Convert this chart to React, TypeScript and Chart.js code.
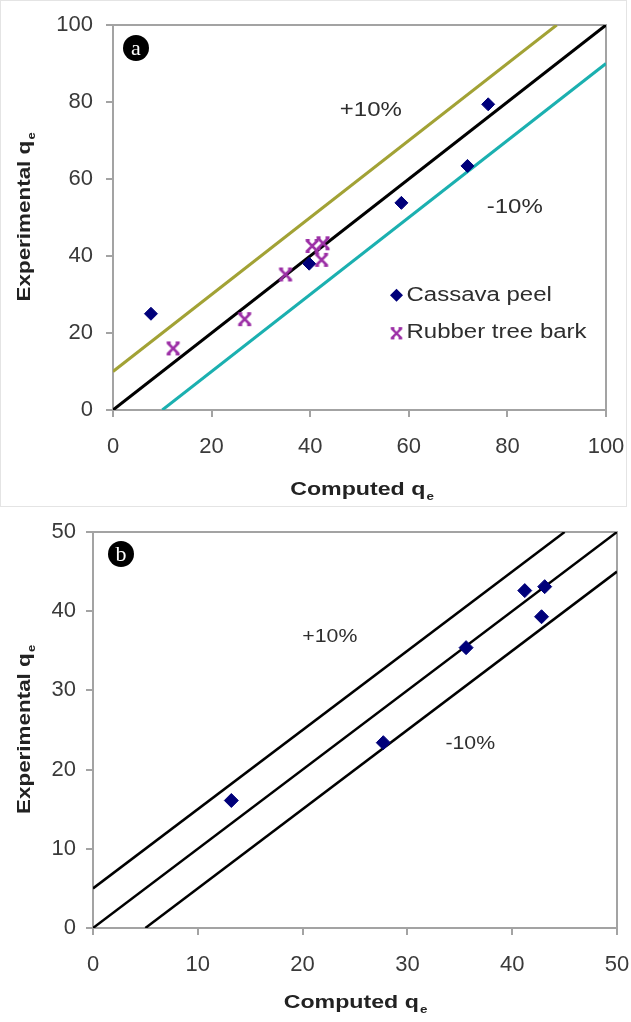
import React, { useEffect, useRef } from "react";
import { Chart, registerables } from "chart.js";

Chart.register(...registerables);

// ---------- Data: panel (a) ----------
const cassavaA_x = [7.7, 39.8, 58.5, 71.9, 76.1];
const cassavaA_y = [25, 38, 53.8, 63.4, 79.4];
const rubberA_x = [12.2, 26.7, 35.0, 40.4, 42.6, 42.3];
const rubberA_y = [16.0, 23.6, 35.2, 42.6, 43.3, 39.0];
const upperA_x = [0, 90];
const upperA_y = [10, 100];
const idealA_x = [0, 100];
const idealA_y = [0, 100];
const lowerA_x = [10, 100];
const lowerA_y = [0, 90];
const ticksA = [0, 20, 40, 60, 80, 100];

// ---------- Data: panel (b) ----------
const cassavaB_x = [13.2, 27.7, 35.6, 41.2, 43.1, 42.8];
const cassavaB_y = [16.1, 23.4, 35.4, 42.6, 43.1, 39.3];
const upperB_x = [0, 45];
const upperB_y = [5, 50];
const idealB_x = [0, 50];
const idealB_y = [0, 50];
const lowerB_x = [5, 50];
const lowerB_y = [0, 45];
const ticksB = [0, 10, 20, 30, 40, 50];

const seriesNames = ["Cassava peel", "Rubber tree bark"];
const bandLabels = ["+10%", "-10%"];

const FONT = '"Liberation Sans", Arial, Helvetica, sans-serif';
const NAVY = "#00007a";
const PURPLE = "#9c2fa6";
const OLIVE = "#a2a235";
const TEAL = "#1bb0b0";
const AXIS = "#a3a3a3";
const TEXT = "#2e2e2e";

const zip = (xs: number[], ys: number[]) => xs.map((x, i) => ({ x, y: ys[i] }));

function makeRubberMarker(): HTMLCanvasElement {
  const c = document.createElement("canvas");
  c.width = 16;
  c.height = 16;
  const g = c.getContext("2d")!;
  g.strokeStyle = PURPLE;
  g.lineWidth = 2.6;
  g.lineCap = "butt";
  g.beginPath();
  g.moveTo(2.5, 2.5);
  g.lineTo(13.5, 13.5);
  g.moveTo(13.5, 2.5);
  g.lineTo(2.5, 13.5);
  g.moveTo(1.5, 2.2);
  g.lineTo(5.5, 2.2);
  g.moveTo(10.5, 2.2);
  g.lineTo(14.5, 2.2);
  g.moveTo(1.5, 13.8);
  g.lineTo(5.5, 13.8);
  g.moveTo(10.5, 13.8);
  g.lineTo(14.5, 13.8);
  g.stroke();
  return c;
}

function stretchedText(
  ctx: CanvasRenderingContext2D,
  text: string,
  x: number,
  y: number,
  font: string,
  color: string,
  align: "left" | "center",
  sx: number
) {
  ctx.save();
  ctx.font = font;
  ctx.fillStyle = color;
  ctx.textBaseline = "middle";
  ctx.textAlign = "left";
  const w = ctx.measureText(text).width * sx;
  const left = align === "center" ? x - w / 2 : x;
  ctx.translate(left, y);
  ctx.scale(sx, 1);
  ctx.fillText(text, 0, 0);
  ctx.restore();
}

function titleWithSub(
  ctx: CanvasRenderingContext2D,
  main: string,
  sub: string,
  cx: number,
  cy: number,
  rotate: boolean,
  size: number,
  sx: number
) {
  ctx.save();
  ctx.translate(cx, cy);
  if (rotate) ctx.rotate(-Math.PI / 2);
  ctx.scale(sx, 1);
  ctx.fillStyle = "#222";
  ctx.textBaseline = "middle";
  ctx.textAlign = "left";
  const f1 = `bold ${size}px ${FONT}`;
  const f2 = `bold ${Math.round(size * 0.6)}px ${FONT}`;
  ctx.font = f1;
  const w1 = ctx.measureText(main).width;
  ctx.font = f2;
  const w2 = ctx.measureText(sub).width;
  const start = -(w1 + w2) / 2;
  ctx.font = f1;
  ctx.fillText(main, start, 0);
  ctx.font = f2;
  ctx.fillText(sub, start + w1 + 1, size * 0.35);
  ctx.restore();
}

const decorPlugin = {
  id: "decor",
  beforeDatasetsDraw(chart: any) {
    const { ctx, chartArea: a } = chart;
    ctx.save();
    ctx.strokeStyle = AXIS;
    ctx.lineWidth = 2;
    ctx.beginPath();
    ctx.moveTo(a.left, a.top);
    ctx.lineTo(a.right, a.top);
    ctx.lineTo(a.right, a.bottom);
    ctx.stroke();
    ctx.restore();
  },
  afterDraw(chart: any, _args: any, opts: any) {
    const { ctx, chartArea: a, scales } = chart;
    const xs = scales.x;
    const ys = scales.y;
    // badge
    ctx.save();
    const bx = a.left + opts.badgeDx;
    const by = a.top + opts.badgeDy;
    ctx.fillStyle = "#000";
    ctx.beginPath();
    ctx.arc(bx, by, 13, 0, Math.PI * 2);
    ctx.fill();
    ctx.fillStyle = "#fff";
    ctx.font = '22px "Liberation Serif", "DejaVu Serif", serif';
    ctx.textAlign = "center";
    ctx.textBaseline = "middle";
    ctx.fillText(opts.badge, bx, by + 1);
    ctx.restore();
    // band labels
    opts.bands.forEach((b: any, i: number) => {
      stretchedText(
        ctx,
        bandLabels[i],
        xs.getPixelForValue(b.x),
        ys.getPixelForValue(b.y),
        `${opts.bandSize}px ${FONT}`,
        TEXT,
        "center",
        opts.bandStretch
      );
    });
    // legend
    if (opts.legend) {
      const lx = xs.getPixelForValue(opts.legend.x);
      const ly = ys.getPixelForValue(opts.legend.y);
      const gap = opts.legend.gap;
      ctx.save();
      ctx.fillStyle = NAVY;
      ctx.beginPath();
      ctx.moveTo(lx, ly - 6.5);
      ctx.lineTo(lx + 6.5, ly);
      ctx.lineTo(lx, ly + 6.5);
      ctx.lineTo(lx - 6.5, ly);
      ctx.closePath();
      ctx.fill();
      ctx.drawImage(opts.marker, lx - 7, ly + gap - 6, 14, 14);
      ctx.restore();
      stretchedText(ctx, seriesNames[0], lx + 10, ly, `20px ${FONT}`, TEXT, "left", 1.2);
      stretchedText(ctx, seriesNames[1], lx + 10, ly + gap, `20px ${FONT}`, TEXT, "left", 1.2);
    }
    // axis titles
    titleWithSub(ctx, "Computed q", "e", (a.left + a.right) / 2 + opts.xTitleDx, opts.xTitleY, false, 19, 1.22);
    titleWithSub(ctx, "Experimental q", "e", opts.yTitleX, (a.top + a.bottom) / 2, true, 19, 1.18);
  },
};

function axis(min: number, max: number, ticks: number[], size: number, pad: number, isX: boolean) {
  return {
    type: "linear" as const,
    min,
    max,
    afterBuildTicks: (s: any) => {
      s.ticks = ticks.map((v) => ({ value: v }));
    },
    ticks: {
      color: "#3a3a3a",
      font: { family: FONT, size: 22 },
      padding: pad,
      maxRotation: 0,
      autoSkip: false,
    },
    grid: { drawOnChartArea: false, drawTicks: true, tickLength: 7, color: AXIS, lineWidth: 2 },
    border: { display: true, color: AXIS, width: 2 },
    afterFit: (s: any) => {
      if (isX) s.height = size;
      else s.width = size;
      s.paddingLeft = 0;
      s.paddingRight = 0;
      s.paddingTop = 0;
      s.paddingBottom = 0;
    },
  };
}

function lineSet(xs: number[], ys: number[], color: string, width: number) {
  return {
    type: "scatter" as const,
    data: zip(xs, ys),
    showLine: true,
    borderColor: color,
    borderWidth: width,
    pointRadius: 0,
    pointHoverRadius: 0,
    fill: false,
    order: 5,
  };
}

function configA(marker: HTMLCanvasElement): any {
  return {
    type: "scatter",
    data: {
      datasets: [
        lineSet(upperA_x, upperA_y, OLIVE, 3),
        lineSet(idealA_x, idealA_y, "#000", 3),
        lineSet(lowerA_x, lowerA_y, TEAL, 3),
        {
          label: seriesNames[0],
          data: zip(cassavaA_x, cassavaA_y),
          pointStyle: "rectRot",
          pointRadius: 6.5,
          backgroundColor: NAVY,
          borderColor: NAVY,
          borderWidth: 1,
          order: 1,
        },
        {
          label: seriesNames[1],
          data: zip(rubberA_x, rubberA_y),
          pointStyle: marker,
          pointRadius: 8,
          backgroundColor: PURPLE,
          borderColor: PURPLE,
          order: 1,
        },
      ],
    },
    options: {
      responsive: false,
      animation: false,
      devicePixelRatio: 1,
      layout: { padding: { top: 25, right: 25, left: 0, bottom: 0 } },
      scales: {
        x: axis(0, 100, ticksA, 95, 17, true),
        y: axis(0, 100, ticksA, 113, 13, false),
      },
      plugins: {
        legend: { display: false },
        tooltip: { enabled: false },
        decor: {
          badge: "a",
          badgeDx: 23,
          badgeDy: 23,
          bands: [
            { x: 52.3, y: 77.9 },
            { x: 81.5, y: 52.7 },
          ],
          bandSize: 20,
          bandStretch: 1.2,
          legend: { x: 57.5, y: 29.8, gap: 37 },
          marker,
          xTitleY: 490,
          xTitleDx: 2,
          yTitleX: 25,
        },
      },
    },
    plugins: [decorPlugin],
  };
}

function configB(): any {
  return {
    type: "scatter",
    data: {
      datasets: [
        lineSet(upperB_x, upperB_y, "#000", 2.5),
        lineSet(idealB_x, idealB_y, "#000", 2.5),
        lineSet(lowerB_x, lowerB_y, "#000", 2.5),
        {
          label: seriesNames[0],
          data: zip(cassavaB_x, cassavaB_y),
          pointStyle: "rectRot",
          pointRadius: 7,
          backgroundColor: NAVY,
          borderColor: NAVY,
          borderWidth: 1,
          order: 1,
        },
      ],
    },
    options: {
      responsive: false,
      animation: false,
      devicePixelRatio: 1,
      layout: { padding: { top: 27, right: 14, left: 0, bottom: 0 } },
      scales: {
        x: axis(0, 50, ticksB, 94, 17, true),
        y: axis(0, 50, ticksB, 93, 10, false),
      },
      plugins: {
        legend: { display: false },
        tooltip: { enabled: false },
        decor: {
          badge: "b",
          badgeDx: 28,
          badgeDy: 22,
          bands: [
            { x: 22.6, y: 36.8 },
            { x: 36.0, y: 23.3 },
          ],
          bandSize: 19,
          bandStretch: 1.12,
          legend: null,
          xTitleY: 498,
          xTitleDx: 0,
          yTitleX: 25,
        },
      },
    },
    plugins: [decorPlugin],
  };
}

export default function App() {
  const refA = useRef<HTMLCanvasElement>(null);
  const refB = useRef<HTMLCanvasElement>(null);
  useEffect(() => {
    const marker = makeRubberMarker();
    const a = new Chart(refA.current!, configA(marker));
    const b = new Chart(refB.current!, configB());
    return () => {
      a.destroy();
      b.destroy();
    };
  }, []);
  return (
    <div style={{ position: "absolute", left: 0, top: 0, width: 631, height: 1022, background: "#fff" }}>
      <div
        style={{
          position: "absolute",
          left: 0,
          top: 0,
          width: 627,
          height: 507,
          border: "1px solid #e4e4e4",
          boxSizing: "border-box",
        }}
      />
      <canvas ref={refA} width={631} height={505} style={{ position: "absolute", left: 0, top: 0 }} />
      <canvas ref={refB} width={631} height={517} style={{ position: "absolute", left: 0, top: 505 }} />
    </div>
  );
}
